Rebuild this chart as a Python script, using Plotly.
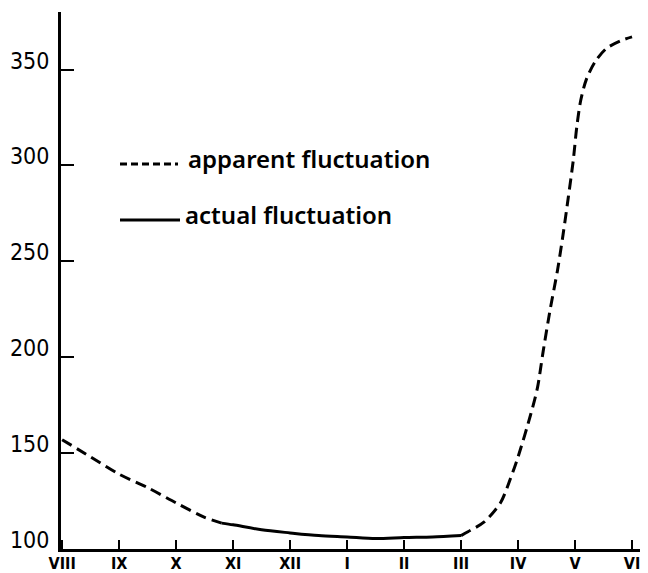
import plotly.graph_objects as go

# ---- data ----
month_labels = ["VIII", "IX", "X", "XI", "XII", "I", "II", "III", "IV", "V", "VI"]
y_ticks = [100, 150, 200, 250, 300, 350]

# apparent fluctuation, autumn segment (dashed)
app1_x = [0, 0.5, 1, 1.5, 2, 2.5, 2.8]
app1_y = [157, 148, 139, 132, 124, 116.5, 113.5]

# actual fluctuation (solid)
act_x = [2.8, 3, 3.5, 4, 4.5, 5, 5.5, 6, 6.5, 7]
act_y = [113.5, 112.6, 110, 108.4, 107, 106.3, 105.5, 106.0, 106.3, 107]

# apparent fluctuation, spring segment (dashed)
app2_x = [7.0, 7.12, 7.4, 7.69, 7.87, 8.0, 8.22, 8.34, 8.44, 8.57, 8.69, 8.79,
          8.88, 8.97, 9.03, 9.1, 9.2, 9.35, 9.55, 9.8, 10.0]
app2_y = [107, 109, 114, 124, 137, 148, 170, 184, 203, 226, 245, 264,
          283, 303, 320, 334, 345, 354, 361, 365, 367]

legend_labels = ["apparent fluctuation", "actual fluctuation"]

# ---- figure ----
# the page body has an 8px margin, so the figure is drawn from (8, 8)
OFF = 8
W, H = 648 - OFF, 573 - OFF
L, R, T, B = 61 - OFF, 0, 12 - OFF, 24
PW, PH = W - L - R, H - T - B

def px(x):
    return (x - OFF - L) / PW

def py(y):
    return (H + OFF - B - y) / PH

dash = "11px,6px"
fig = go.Figure()
fig.add_trace(go.Scatter(x=app1_x + [None] + app2_x, y=app1_y + [None] + app2_y,
                         mode="lines", connectgaps=False,
                         line=dict(color="black", width=3, dash=dash, shape="spline", smoothing=0.8),
                         name=legend_labels[0], showlegend=False))
fig.add_trace(go.Scatter(x=act_x, y=act_y, mode="lines",
                         line=dict(color="black", width=3, shape="spline", smoothing=0.8),
                         name=legend_labels[1], showlegend=False))

# hand-drawn style legend
fig.add_shape(type="line", xref="paper", yref="paper",
              x0=px(120), x1=px(178), y0=py(164), y1=py(164),
              line=dict(color="black", width=3, dash="7px,4px"))
fig.add_shape(type="line", xref="paper", yref="paper",
              x0=px(120), x1=px(180), y0=py(220), y1=py(220),
              line=dict(color="black", width=3))
lab_font = dict(family="Noto Sans", size=24, color="black", weight=600)
fig.add_annotation(xref="paper", yref="paper", x=px(186), y=py(158),
                   text=legend_labels[0], showarrow=False, xanchor="left", yanchor="middle",
                   font=lab_font)
fig.add_annotation(xref="paper", yref="paper", x=px(183), y=py(214),
                   text=legend_labels[1], showarrow=False, xanchor="left", yanchor="middle",
                   font=lab_font)

fig.update_layout(
    width=W, height=H,
    margin=dict(l=L, r=R, t=T, b=B, autoexpand=False),
    paper_bgcolor="white", plot_bgcolor="white",
    showlegend=False,
    xaxis=dict(range=[-0.02, 10.28], tickmode="array", automargin=False,
               tickvals=list(range(len(month_labels))), ticktext=month_labels,
               showgrid=False, zeroline=False, showline=True, linecolor="black", linewidth=3,
               ticks="inside", ticklen=9, tickwidth=2, tickcolor="black",
               tickfont=dict(family="DejaVu Sans Condensed", size=16, color="black", weight="bold"),
               ticklabelstandoff=-2),
    yaxis=dict(range=[100, 380], tickmode="array", tickvals=y_ticks, automargin=False,
               ticktext=[str(v) for v in y_ticks],
               showgrid=False, zeroline=False, showline=True, linecolor="black", linewidth=3,
               ticks="inside", ticklen=13, tickwidth=2, tickcolor="black",
               tickfont=dict(family="DejaVu Sans Condensed", size=23, color="black"),
               ticklabelshift=-9, ticklabelstandoff=4),
)

fig.write_html("out.html")
